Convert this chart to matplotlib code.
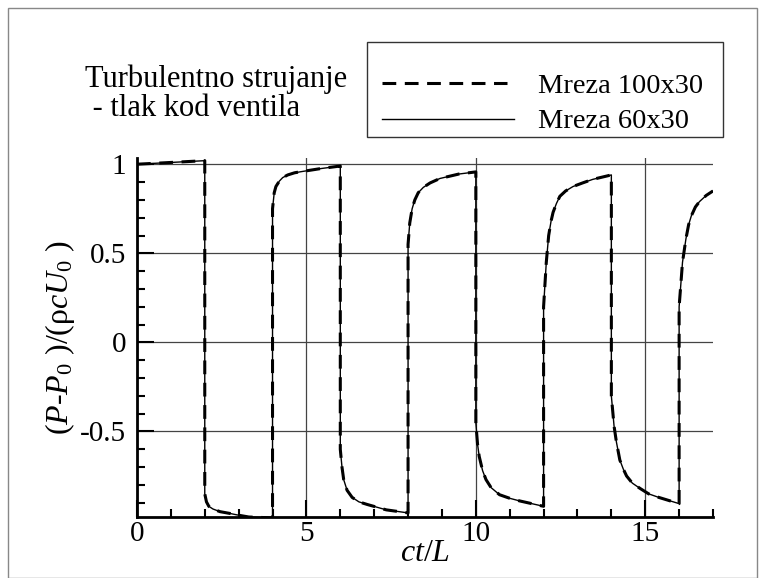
import matplotlib
matplotlib.use("Agg")
import matplotlib.pyplot as plt
from matplotlib.lines import Line2D
from matplotlib.patches import Rectangle
from matplotlib.ticker import MultipleLocator

plt.rcParams['font.family'] = ['Liberation Serif', 'DejaVu Serif']
plt.rcParams['mathtext.fontset'] = 'custom'
plt.rcParams['mathtext.rm'] = 'Liberation Serif'
plt.rcParams['mathtext.it'] = 'Liberation Serif:italic'

# ---- data ----
x_fine = [0, 0.5, 1.0, 1.5, 2.0,
          2.0, 2.05, 2.12, 2.24, 2.45, 2.74, 3.0, 3.3, 4.0,
          4.0, 4.05, 4.1, 4.2, 4.3, 4.45, 4.65, 4.9, 5.4, 6.0,
          6.0, 6.05, 6.1, 6.2, 6.35, 6.55, 6.8, 7.36, 8.0,
          8.0, 8.05, 8.12, 8.2, 8.3, 8.45, 8.65, 8.94, 9.5, 10.0,
          10.0, 10.05, 10.1, 10.2, 10.3, 10.45, 10.7, 11.0, 11.3, 12.0,
          12.0, 12.08, 12.15, 12.22, 12.28, 12.38, 12.48, 12.65, 12.87, 13.15, 13.45, 14.0,
          14.0, 14.08, 14.15, 14.25, 14.35, 14.45, 14.62, 14.85, 15.1, 15.4, 16.0,
          16.0, 16.1, 16.2, 16.28, 16.36, 16.48, 16.6, 16.8, 17.0]
y_fine = [1.00, 1.005, 1.01, 1.015, 1.02,
          -0.85, -0.895, -0.92, -0.935, -0.95, -0.96, -0.97, -0.98, -0.985,
          0.75, 0.84, 0.875, 0.905, 0.925, 0.94, 0.952, 0.96, 0.975, 0.99,
          -0.60, -0.70, -0.77, -0.83, -0.87, -0.895, -0.91, -0.94, -0.957,
          0.55, 0.67, 0.75, 0.80, 0.84, 0.87, 0.895, 0.92, 0.945, 0.957,
          -0.45, -0.57, -0.64, -0.72, -0.77, -0.815, -0.855, -0.875, -0.89, -0.92,
          0.20, 0.45, 0.60, 0.68, 0.73, 0.78, 0.82, 0.85, 0.875, 0.895, 0.915, 0.94,
          -0.30, -0.47, -0.56, -0.66, -0.71, -0.75, -0.79, -0.82, -0.85, -0.87, -0.905,
          0.20, 0.45, 0.58, 0.66, 0.71, 0.76, 0.79, 0.825, 0.85]
x_coarse = list(x_fine)
y_coarse = list(y_fine)

series_labels = ["Mreza 100x30", "Mreza 60x30"]
title_lines = ["Turbulentno strujanje", " - tlak kod ventila"]
x_ticks = [0, 5, 10, 15]
y_ticks = [-0.5, 0, 0.5, 1]
y_tick_labels = ['-0.5', '0', '0.5', '1']

W, H = 765, 578
fig = plt.figure(figsize=(W / 100, H / 100), dpi=100)

def px(x0, y0):
    return x0 / W, 1 - y0 / H

ax = fig.add_axes([137 / W, 61 / H, 576 / W, 359 / H])
ax.set_xlim(0, 17)
ax.set_ylim(-0.98, 1.035)

ax.plot(x_fine, y_fine, color='black', lw=2.2, dashes=(4.5, 2.8), zorder=3)
ax.plot(x_coarse, y_coarse, color='black', lw=1.0, zorder=4)

ax.set_xticks(x_ticks)
ax.set_yticks(y_ticks)
ax.set_yticklabels(y_tick_labels)
ax.xaxis.set_minor_locator(MultipleLocator(1))
ax.yaxis.set_minor_locator(MultipleLocator(0.1))
ax.tick_params(which='both', direction='in', top=False, right=False,
               labelsize=21, width=1.5)
ax.tick_params(which='major', length=12, pad=3)
ax.tick_params(which='minor', length=6)
ax.tick_params(axis='y', pad=8)
ax.grid(True, which='major', color='#444444', lw=0.9)
for s in ['top', 'right']:
    ax.spines[s].set_visible(False)
for s in ['left', 'bottom']:
    ax.spines[s].set_linewidth(2)

ax.set_xlabel(r'$ct/L$', fontsize=23, labelpad=-6)
ax.set_ylabel(r'($P$-$P_{\mathit{0}}$ )/(ρ$cU_{\mathit{0}}$ )',
              fontsize=23, labelpad=2)

# title text
x0, y0 = px(85, 87)
fig.text(x0, y0, title_lines[0], fontsize=22, va='baseline', ha='left')
x0, y0 = px(85, 116)
fig.text(x0, y0, title_lines[1], fontsize=22, va='baseline', ha='left')

# legend box
lx0, ly0 = px(367, 137)
fig.patches.append(Rectangle((lx0, ly0), 356 / W, 95 / H, transform=fig.transFigure,
                             fill=False, edgecolor='#333333', lw=1.0))
a, b = px(382, 83)
c, _ = px(507, 83)
fig.add_artist(Line2D([a, c], [b, b], transform=fig.transFigure, color='black',
                      lw=2.2, dashes=(4.5, 2.8)))
a, b = px(382, 119)
c, _ = px(514, 119)
fig.add_artist(Line2D([a, c], [b, b], transform=fig.transFigure, color='black', lw=1.0))
tx, ty = px(538, 93)
fig.text(tx, ty, series_labels[0], fontsize=20.5, va='baseline', ha='left')
tx, ty = px(538, 128)
fig.text(tx, ty, series_labels[1], fontsize=20.5, va='baseline', ha='left')

# figure border
fig.patches.append(Rectangle((8 / W, 0), 749 / W, 1 - 8 / H, transform=fig.transFigure,
                             fill=False, edgecolor='#888888', lw=1.0))

fig.savefig('out.png', dpi=100)
